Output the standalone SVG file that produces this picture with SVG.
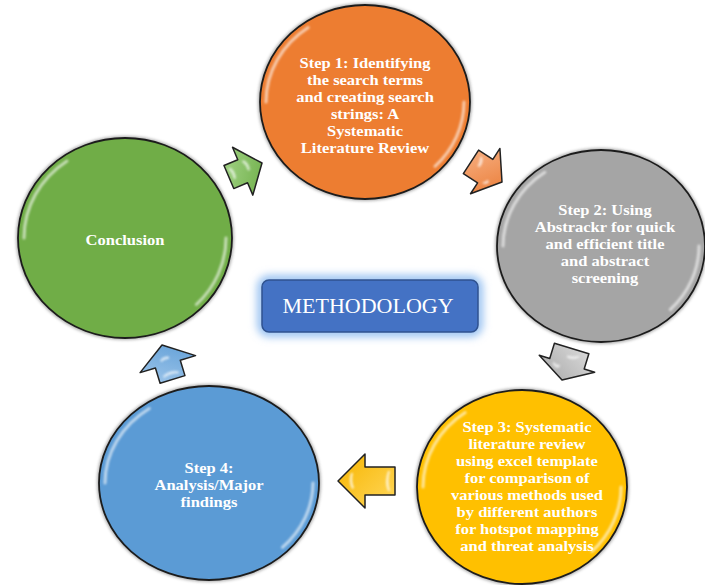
<svg xmlns="http://www.w3.org/2000/svg" width="705" height="585" viewBox="0 0 705 585">
  <style>
    .label { font-family: "Liberation Serif", "Times New Roman", serif; font-weight: bold; font-size: 15px; fill: #ffffff; text-anchor: middle; }
    .title { font-family: "Liberation Serif", "Times New Roman", serif; font-size: 22px; fill: #ffffff; text-anchor: middle; }
    .disc { stroke: #1c1c1c; stroke-width: 1.8; }
    .halo { fill: none; stroke: #6a6a6a; stroke-width: 4; opacity: 0.55; filter: url(#soft); }
    .shine { fill: none; stroke: #ffffff; stroke-width: 3; stroke-linecap: round; opacity: 0.6; filter: url(#blur1); }
    .arrow { stroke: #222222; stroke-width: 1.5; stroke-linejoin: round; }
    .ashine { fill: #ffffff; opacity: 0.75; filter: url(#blur1); }
  </style>
  <defs>
    <filter id="soft" x="-20%" y="-20%" width="140%" height="140%">
      <feGaussianBlur stdDeviation="1.6"/>
    </filter>
    <filter id="blur1" x="-50%" y="-50%" width="200%" height="200%">
      <feGaussianBlur stdDeviation="1"/>
    </filter>
    <filter id="glow" x="-20%" y="-40%" width="140%" height="180%">
      <feGaussianBlur stdDeviation="4"/>
    </filter>
    <linearGradient id="gGreen" x1="0" y1="0" x2="1" y2="1">
      <stop offset="0" stop-color="#a6d68a"/>
      <stop offset="1" stop-color="#6aab43"/>
    </linearGradient>
    <linearGradient id="gOrange" x1="0" y1="0" x2="1" y2="1">
      <stop offset="0" stop-color="#f7b286"/>
      <stop offset="1" stop-color="#ea7a33"/>
    </linearGradient>
    <linearGradient id="gGray" x1="0" y1="0" x2="1" y2="1">
      <stop offset="0" stop-color="#dcdcdc"/>
      <stop offset="1" stop-color="#a8a8a8"/>
    </linearGradient>
    <linearGradient id="gYellow" x1="0" y1="0" x2="1" y2="1">
      <stop offset="0" stop-color="#ffd75a"/>
      <stop offset="1" stop-color="#f7b500"/>
    </linearGradient>
    <linearGradient id="gBlue" x1="0" y1="0" x2="1" y2="1">
      <stop offset="0" stop-color="#a3c9ec"/>
      <stop offset="1" stop-color="#5b9bd5"/>
    </linearGradient>
  </defs>

  <rect width="705" height="585" fill="#ffffff"/>

  <!-- cycle connectors: bevelled block arrows, tip at local origin pointing +x -->
  <g id="connectors">
    <g id="arrow-conclusion-step1" transform="translate(262,163) rotate(-23)">
      <path class="arrow" fill="url(#gGreen)" d="M0,0 L-21,-26 L-21,-12.5 L-36,-12.5 L-36,12.5 L-21,12.5 L-21,26 Z"/>
      <path class="ashine" d="M-31,-8 q3,5 1,12 l-2,0 q1,-6 -1,-12 z"/>
      <path class="ashine" d="M-16,-10 q4,5 2,12 l-2,-1 q1,-5 -2,-10 z"/>
    </g>
    <g id="arrow-step1-step2" transform="translate(502,182) rotate(33)">
      <path class="arrow" fill="url(#gOrange)" d="M0,0 L-20,-27 L-20,-14 L-37,-14 L-37,14 L-20,14 L-20,27 Z"/>
      <path class="ashine" d="M-30,-10 q4,4 3,10 l-2,0 q0,-5 -3,-9 z"/>
      <path class="ashine" d="M-12,6 q3,3 -3,6 l-1,-2 q3,-1 2,-3 z"/>
    </g>
    <g id="arrow-step2-step3" transform="translate(562,380) rotate(107)">
      <path class="arrow" fill="url(#gGray)" d="M0,0 L-17,-29 L-17,-18 L-33,-18 L-33,18 L-17,18 L-17,29 Z"/>
      <path class="ashine" d="M-27,-10 q5,4 4,12 l-2,0 q0,-7 -3,-11 z"/>
      <path class="ashine" d="M-12,6 q4,2 -1,8 l-2,-1 q3,-3 1,-6 z"/>
    </g>
    <g id="arrow-step3-step4" transform="translate(338,481) rotate(180)">
      <path class="arrow" fill="url(#gYellow)" d="M0,0 L-27,-27 L-27,-14 L-57,-14 L-57,14 L-27,14 L-27,27 Z"/>
      <path class="ashine" d="M-50,-10 q4,9 0,20 l-2,0 q3,-10 0,-20 z"/>
      <path class="ashine" d="M-14,-8 q4,8 1,16 l-2,0 q2,-8 -1,-15 z"/>
    </g>
    <g id="arrow-step4-conclusion" transform="translate(162,345) rotate(-107)">
      <path class="arrow" fill="url(#gBlue)" d="M0,0 L-20,-29 L-20,-13 L-36,-13 L-36,13 L-20,13 L-20,29 Z"/>
      <path class="ashine" d="M-30,-8 q4,8 0,16 l-2,0 q3,-8 0,-16 z"/>
      <path class="ashine" d="M-14,-6 q3,4 1,9 l-2,0 q1,-5 -1,-9 z"/>
    </g>
  </g>

  <!-- Step 1 -->
  <g id="step1" transform="translate(365,102)">
    <ellipse class="halo" rx="105" ry="97"/>
    <ellipse class="disc" rx="105" ry="97" fill="#ed7d31"/>
    <path class="shine" d="M-99,0 A99,91 0 0 1 -56.8,-74.5"/>
    <path class="shine" d="M99,0 A99,91 0 0 1 70,64.3"/>
    <g transform="scale(1.1,1)">
      <text class="label" x="0" y="-34">Step 1: Identifying</text>
      <text class="label" x="0" y="-17">the search terms</text>
      <text class="label" x="0" y="0">and creating search</text>
      <text class="label" x="0" y="17">strings: A</text>
      <text class="label" x="0" y="34">Systematic</text>
      <text class="label" x="0" y="51">Literature Review</text>
    </g>
  </g>

  <!-- Step 2 -->
  <g id="step2" transform="translate(601,246)">
    <ellipse class="halo" rx="104" ry="96"/>
    <ellipse class="disc" rx="104" ry="96" fill="#a5a5a5"/>
    <path class="shine" d="M-98,0 A98,90 0 0 1 -56.2,-73.7"/>
    <path class="shine" d="M98,0 A98,90 0 0 1 69.3,63.6"/>
    <g transform="scale(1.1,1)">
      <text class="label" x="3.6" y="-31">Step 2: Using</text>
      <text class="label" x="3.6" y="-14">Abstrackr for quick</text>
      <text class="label" x="3.6" y="3">and efficient title</text>
      <text class="label" x="3.6" y="20">and abstract</text>
      <text class="label" x="3.6" y="37">screening</text>
    </g>
  </g>

  <!-- Step 3 -->
  <g id="step3" transform="translate(522,487)">
    <ellipse class="halo" rx="105" ry="97"/>
    <ellipse class="disc" rx="105" ry="97" fill="#ffc000"/>
    <path class="shine" d="M-99,0 A99,91 0 0 1 -56.8,-74.5"/>
    <path class="shine" d="M99,0 A99,91 0 0 1 70,64.3"/>
    <g transform="scale(1.1,1)">
      <text class="label" x="4.5" y="-55">Step 3: Systematic</text>
      <text class="label" x="4.5" y="-38">literature review</text>
      <text class="label" x="4.5" y="-21">using excel template</text>
      <text class="label" x="4.5" y="-4">for comparison of</text>
      <text class="label" x="4.5" y="13">various methods used</text>
      <text class="label" x="4.5" y="30">by different authors</text>
      <text class="label" x="4.5" y="47">for hotspot mapping</text>
      <text class="label" x="4.5" y="64">and threat analysis</text>
    </g>
  </g>

  <!-- Step 4 -->
  <g id="step4" transform="translate(209,483)">
    <ellipse class="halo" rx="110" ry="97"/>
    <ellipse class="disc" rx="110" ry="97" fill="#5b9bd5"/>
    <path class="shine" d="M-104,0 A104,91 0 0 1 -59.7,-74.5"/>
    <path class="shine" d="M104,0 A104,91 0 0 1 73.5,64.3"/>
    <g transform="scale(1.1,1)">
      <text class="label" x="0" y="-10">Step 4:</text>
      <text class="label" x="0" y="7">Analysis/Major</text>
      <text class="label" x="0" y="24">findings</text>
    </g>
  </g>

  <!-- Conclusion -->
  <g id="conclusion" transform="translate(125,238)">
    <ellipse class="halo" rx="107" ry="100"/>
    <ellipse class="disc" rx="107" ry="100" fill="#70ad47"/>
    <path class="shine" d="M-101,0 A101,94 0 0 1 -58,-77"/>
    <path class="shine" d="M101,0 A101,94 0 0 1 71.4,66.5"/>
    <g transform="scale(1.1,1)">
      <text class="label" x="0" y="7">Conclusion</text>
    </g>
  </g>

  <!-- central title -->
  <g id="methodology">
    <rect x="262" y="280" width="216" height="52" rx="7" fill="none" stroke="#8fbcf0" stroke-width="9" filter="url(#glow)"/>
    <rect x="262" y="280" width="216" height="52" rx="7" fill="#4472c4" stroke="#2f528f" stroke-width="1.5"/>
    <text class="title" x="368" y="313">METHODOLOGY</text>
  </g>
</svg>
